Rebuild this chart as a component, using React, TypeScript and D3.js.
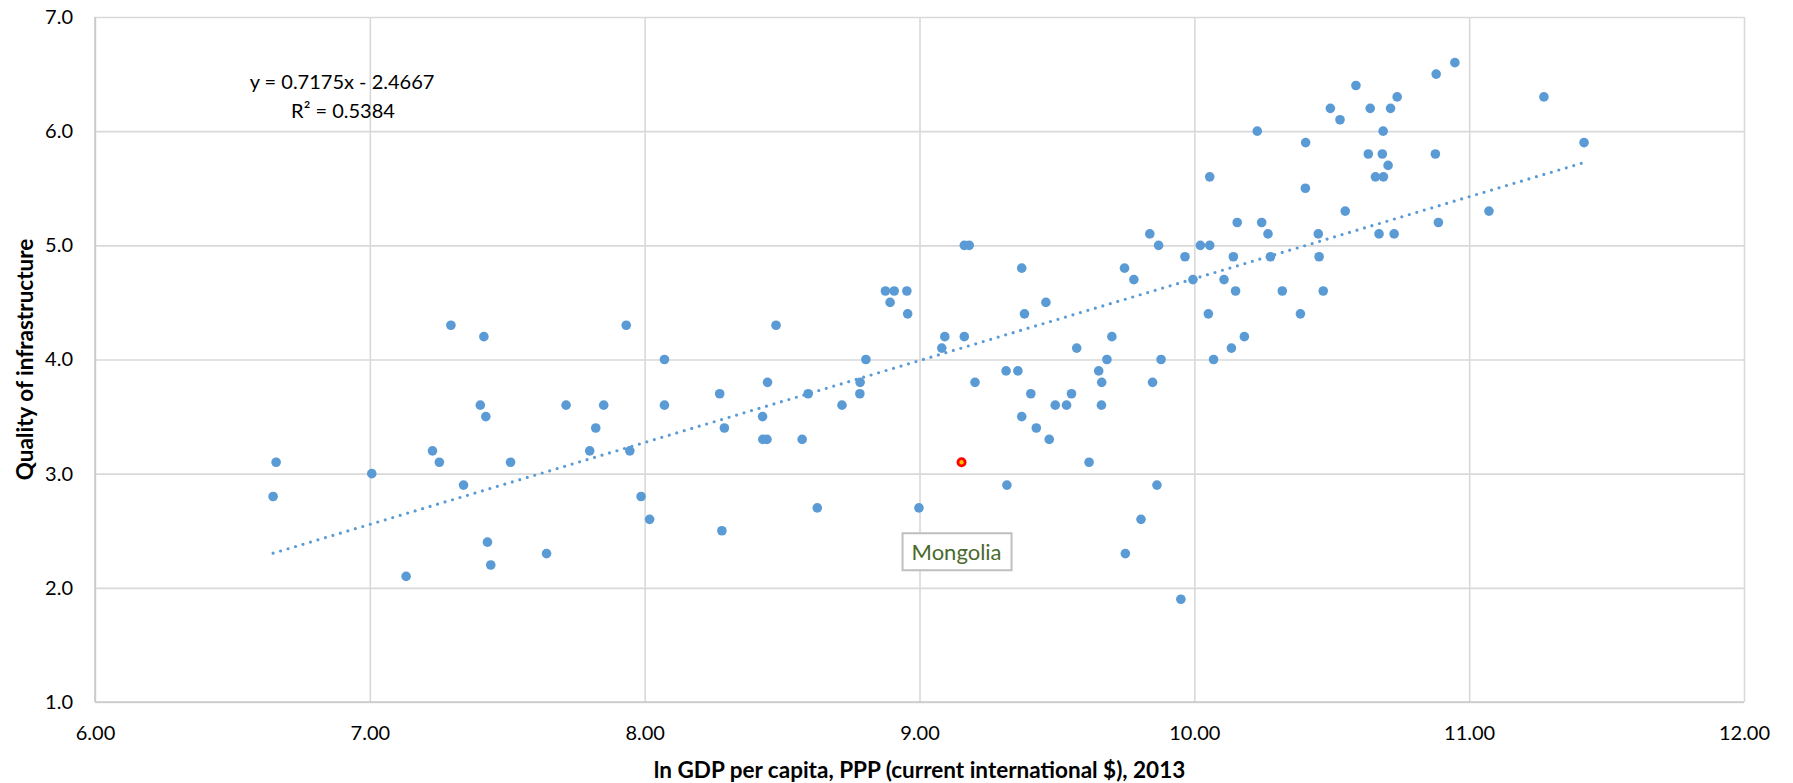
import React, { useEffect, useRef } from 'react';
import * as d3 from 'd3';

// ln GDP per capita (x) and quality of infrastructure (y)
const gdp = [
  6.648, 6.659, 7.007, 7.132, 7.228, 7.253, 7.341, 7.402, 7.422, 7.428,
  7.44, 7.512, 7.643, 7.714, 7.8, 7.822, 7.295, 7.415, 7.933, 8.072,
  8.273, 8.447, 8.478, 8.595, 8.783, 8.784, 8.805, 8.876, 8.908, 8.893,
  8.954, 8.957, 9.081, 9.092, 9.163, 9.181, 9.163, 9.202, 9.315, 9.358,
  9.372, 9.382, 9.405, 9.46, 9.553, 9.572, 9.652, 9.663, 9.682, 9.7,
  9.746, 9.78, 9.838, 9.87, 9.879, 9.848, 9.966, 9.995, 7.851, 8.072,
  8.29, 8.429, 8.43, 8.445, 8.573, 8.718, 7.946, 7.987, 8.018, 8.281,
  8.628, 8.998, 9.372, 9.425, 9.472, 9.494, 9.535, 9.662, 9.617, 9.318,
  9.864, 9.806, 9.749, 9.951, 10.022, 10.056, 10.056, 10.229, 10.405, 10.404,
  10.495, 10.53, 10.588, 10.64, 10.714, 10.738, 10.687, 10.633, 10.684, 10.705,
  10.659, 10.688, 10.88, 10.948, 10.877, 11.272, 11.418, 11.072, 10.888, 10.549,
  10.156, 10.245, 10.268, 10.451, 10.672, 10.727, 10.142, 10.277, 10.454, 10.108,
  10.15, 10.32, 10.469, 10.051, 10.386, 10.182, 10.135, 10.07
];
const infra = [
  2.8, 3.1, 3.0, 2.1, 3.2, 3.1, 2.9, 3.6, 3.5, 2.4,
  2.2, 3.1, 2.3, 3.6, 3.2, 3.4, 4.3, 4.2, 4.3, 4.0,
  3.7, 3.8, 4.3, 3.7, 3.7, 3.8, 4.0, 4.6, 4.6, 4.5,
  4.6, 4.4, 4.1, 4.2, 5.0, 5.0, 4.2, 3.8, 3.9, 3.9,
  4.8, 4.4, 3.7, 4.5, 3.7, 4.1, 3.9, 3.8, 4.0, 4.2,
  4.8, 4.7, 5.1, 5.0, 4.0, 3.8, 4.9, 4.7, 3.6, 3.6,
  3.4, 3.5, 3.3, 3.3, 3.3, 3.6, 3.2, 2.8, 2.6, 2.5,
  2.7, 2.7, 3.5, 3.4, 3.3, 3.6, 3.6, 3.6, 3.1, 2.9,
  2.9, 2.6, 2.3, 1.9, 5.0, 5.0, 5.6, 6.0, 5.9, 5.5,
  6.2, 6.1, 6.4, 6.2, 6.2, 6.3, 6.0, 5.8, 5.8, 5.7,
  5.6, 5.6, 6.5, 6.6, 5.8, 6.3, 5.9, 5.3, 5.2, 5.3,
  5.2, 5.2, 5.1, 5.1, 5.1, 5.1, 4.9, 4.9, 4.9, 4.7,
  4.6, 4.6, 4.6, 4.4, 4.4, 4.2, 4.1, 4.0
];

const highlight = { name: 'Mongolia', gdp: 9.153, infra: 3.1 };

const xTicks = [6, 7, 8, 9, 10, 11, 12];
const yTicks = [1, 2, 3, 4, 5, 6, 7];

// linear trendline shown by Excel
const slope = 0.7175;
const intercept = -2.4667;
const rSquared = 0.5384;

const xTitle = 'ln GDP per capita, PPP (current international $), 2013';
const yTitle = 'Quality of infrastructure';

const width = 1793;
const height = 783;
const margin = { top: 17, right: 49, bottom: 81, left: 95 };
const font = 'Lato, "Open Sans", sans-serif';
const blue = '#5B9BD5';

export default function App() {
  const ref = useRef<SVGSVGElement>(null);

  useEffect(() => {
    const svg = d3.select(ref.current);
    svg.selectAll('*').remove();

    const x = d3.scaleLinear()
      .domain([6, 12])
      .range([margin.left, width - margin.right]);
    const y = d3.scaleLinear()
      .domain([1, 7])
      .range([height - margin.bottom, margin.top]);

    const plotW = width - margin.left - margin.right;
    const plotH = height - margin.top - margin.bottom;

    // x axis + vertical gridlines
    svg.append('g')
      .attr('transform', `translate(0,${height - margin.bottom})`)
      .call(d3.axisBottom(x).tickValues(xTicks).tickSize(-plotH).tickPadding(24).tickFormat(d3.format('.2f')))
      .call(g => g.select('.domain').remove())
      .call(g => g.selectAll('line').attr('stroke', '#D9D9D9').attr('stroke-width', 1.6))
      .call(g => g.selectAll('text').attr('fill', '#000').attr('font-size', 20).attr('font-family', font));

    // y axis + horizontal gridlines
    svg.append('g')
      .attr('transform', `translate(${margin.left},0)`)
      .call(d3.axisLeft(y).tickValues(yTicks).tickSize(-plotW).tickPadding(22).tickFormat(d3.format('.1f')))
      .call(g => g.select('.domain').remove())
      .call(g => g.selectAll('line').attr('stroke', '#D9D9D9').attr('stroke-width', 1.6))
      .call(g => g.selectAll('text').attr('fill', '#000').attr('font-size', 20).attr('font-family', font));

    // axis lines a touch darker
    svg.append('line')
      .attr('x1', x(6)).attr('x2', x(12)).attr('y1', y(1)).attr('y2', y(1))
      .attr('stroke', '#C8C8C8').attr('stroke-width', 1.6);
    svg.append('line')
      .attr('x1', x(6)).attr('x2', x(6)).attr('y1', y(1)).attr('y2', y(7))
      .attr('stroke', '#C8C8C8').attr('stroke-width', 1.6);

    // points
    const pts = gdp.map((g, i) => ({ g, v: infra[i] }));
    svg.append('g')
      .selectAll('circle')
      .data(pts)
      .join('circle')
      .attr('cx', d => x(d.g))
      .attr('cy', d => y(d.v))
      .attr('r', 4.8)
      .attr('fill', blue);

    // trendline (dotted)
    const allX = gdp.concat([highlight.gdp]);
    const ext = d3.extent(allX) as [number, number];
    const line = d3.line<number>()
      .x(d => x(d))
      .y(d => y(slope * d + intercept));
    svg.append('path')
      .datum(ext)
      .attr('d', line)
      .attr('fill', 'none')
      .attr('stroke', blue)
      .attr('stroke-width', 3.2)
      .attr('stroke-linecap', 'round')
      .attr('stroke-dasharray', '0 7.8');

    // highlighted country
    const hx = x(highlight.gdp);
    const hy = y(highlight.infra);
    svg.append('circle')
      .attr('cx', hx).attr('cy', hy).attr('r', 3.6)
      .attr('fill', '#FFC000').attr('stroke', '#FF0000').attr('stroke-width', 2.8);

    const label = svg.append('g').attr('transform', `translate(${hx - 5},${hy + 71})`);
    label.append('rect')
      .attr('x', -54).attr('y', 0).attr('width', 109).attr('height', 37)
      .attr('fill', '#fff').attr('stroke', '#BFBFBF').attr('stroke-width', 2);
    label.append('text')
      .attr('x', 0).attr('y', 27)
      .attr('text-anchor', 'middle')
      .attr('font-family', font).attr('font-size', 22)
      .attr('fill', '#4A6A2C')
      .text(highlight.name);

    // equation
    const eq = svg.append('g').attr('font-family', font).attr('font-size', 20).attr('fill', '#000').attr('text-anchor', 'middle');
    eq.append('text').attr('x', 342).attr('y', 89)
      .text(`y = ${slope}x - ${Math.abs(intercept)}`);
    eq.append('text').attr('x', 343).attr('y', 118)
      .text(`R² = ${rSquared}`);

    // axis titles
    svg.append('text')
      .attr('x', margin.left + plotW / 2).attr('y', 778)
      .attr('text-anchor', 'middle')
      .attr('font-family', font).attr('font-size', 22.5).attr('font-weight', 'bold')
      .text(xTitle);
    svg.append('text')
      .attr('transform', `translate(33,${margin.top + plotH / 2}) rotate(-90)`)
      .attr('text-anchor', 'middle')
      .attr('font-family', font).attr('font-size', 22.5).attr('font-weight', 'bold')
      .text(yTitle);
  }, []);

  return (
    <svg
      ref={ref}
      width={width}
      height={height}
      style={{ position: 'absolute', left: 0, top: 0, background: '#fff' }}
    />
  );
}
